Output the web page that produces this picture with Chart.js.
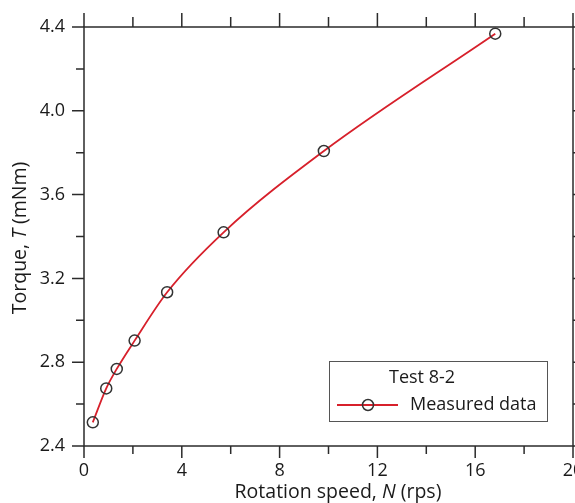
<!DOCTYPE html>
<html lang="en">
<head>
    <meta charset="UTF-8">
    <title>Torque vs rotation speed</title>
    <script src="https://cdn.jsdelivr.net/npm/chart.js"></script>
    <style>
        html, body { margin: 0; padding: 0; background: #fff; }
        #wrap { width: 575px; height: 503px; }
    </style>
</head>
<body>
    <div id="wrap">
        <canvas id="grafico"></canvas>
    </div>

    <script>
        // dados
        const rotacao = [0.36, 0.91, 1.34, 2.07, 3.40, 5.71, 9.81, 16.82];
        const torque = [2.513, 2.675, 2.768, 2.903, 3.134, 3.42, 3.808, 4.368];
        const xTicks = [0, 4, 8, 12, 16, 20];
        const yTicks = [2.4, 2.8, 3.2, 3.6, 4.0, 4.4];
        const legendaTitulo = 'Test 8-2';
        const legendaSerie = 'Measured data';

        const fonte = '"Open Sans", "Noto Sans", sans-serif';
        const corEixo = '#2b2b2b';
        const corLinha = '#d7202b';

        // moldura, ticks maiores/menores, títulos dos eixos e legenda
        const extras = {
            id: 'extras',
            afterDraw(chart) {
                const ctx = chart.ctx;
                const a = chart.chartArea;
                const sx = chart.scales.x;
                const sy = chart.scales.y;
                ctx.save();
                ctx.strokeStyle = corEixo;
                ctx.lineWidth = 1.5;
                ctx.strokeRect(a.left, a.top, a.right - a.left, a.bottom - a.top);

                ctx.beginPath();
                for (let v = 0; v <= 20; v += 2) {
                    const px = sx.getPixelForValue(v);
                    const maior = v % 4 === 0;
                    ctx.moveTo(px, a.bottom); ctx.lineTo(px, a.bottom + (maior ? 12 : 8));
                    ctx.moveTo(px, a.top); ctx.lineTo(px, a.top - (maior ? 14 : 10));
                }
                for (let i = 0; i <= 10; i++) {
                    const v = 2.4 + i * 0.2;
                    const py = sy.getPixelForValue(v);
                    const maior = i % 2 === 0;
                    ctx.moveTo(a.left, py); ctx.lineTo(a.left - (maior ? 12 : 8), py);
                    ctx.moveTo(a.right, py); ctx.lineTo(a.right + (maior ? 12 : 8), py);
                }
                ctx.stroke();

                // títulos dos eixos (com letra em itálico)
                ctx.fillStyle = '#1a1a1a';
                ctx.textBaseline = 'middle';
                function textoMisto(partes, cx, cy, tam) {
                    let total = 0;
                    partes.forEach(p => {
                        ctx.font = (p.it ? 'italic ' : '') + tam + 'px ' + fonte;
                        total += ctx.measureText(p.t).width;
                    });
                    let x = cx - total / 2;
                    ctx.textAlign = 'left';
                    partes.forEach(p => {
                        ctx.font = (p.it ? 'italic ' : '') + tam + 'px ' + fonte;
                        ctx.fillText(p.t, x, cy);
                        x += ctx.measureText(p.t).width;
                    });
                }
                textoMisto([{ t: 'Rotation speed, ' }, { t: 'N', it: true }, { t: ' (rps)' }], 338, 492, 19.5);
                ctx.save();
                ctx.translate(20, 238);
                ctx.rotate(-Math.PI / 2);
                textoMisto([{ t: 'Torque, ' }, { t: 'T', it: true }, { t: ' (mNm)' }], 0, 0, 19.5);
                ctx.restore();

                // legenda
                ctx.fillStyle = '#fff';
                ctx.fillRect(329, 361, 218, 60);
                ctx.strokeStyle = '#555';
                ctx.lineWidth = 1;
                ctx.strokeRect(329.5, 361.5, 218, 60);
                ctx.fillStyle = '#1a1a1a';
                ctx.font = '18px ' + fonte;
                ctx.textAlign = 'center';
                ctx.fillText(legendaTitulo, 422, 378);
                ctx.strokeStyle = corLinha;
                ctx.lineWidth = 1.8;
                ctx.beginPath();
                ctx.moveTo(337, 405); ctx.lineTo(398, 405);
                ctx.stroke();
                ctx.strokeStyle = '#333';
                ctx.lineWidth = 1.5;
                ctx.beginPath();
                ctx.arc(368, 405, 5.5, 0, Math.PI * 2);
                ctx.stroke();
                ctx.textAlign = 'left';
                ctx.fillText(legendaSerie, 410, 405);
                ctx.restore();
            }
        };

        const dados = {
            datasets: [{
                label: legendaSerie,
                data: rotacao.map((x, i) => ({ x: x, y: torque[i] })),
                borderColor: corLinha,
                borderWidth: 1.8,
                cubicInterpolationMode: 'monotone',
                pointRadius: 5.5,
                pointBorderWidth: 1.5,
                pointBorderColor: '#333',
                pointBackgroundColor: 'rgba(0,0,0,0)',
                fill: false
            }]
        };

        const config = {
            type: 'line',
            data: dados,
            options: {
                responsive: false,
                animation: false,
                layout: { autoPadding: false, padding: { top: 27, right: 2, left: 0, bottom: 0 } },
                plugins: {
                    legend: { display: false },
                    tooltip: { enabled: false }
                },
                scales: {
                    x: {
                        type: 'linear',
                        min: 0,
                        max: 20,
                        afterFit: s => { s.height = 57; s.paddingLeft = 0; s.paddingRight = 0; },
                        afterBuildTicks: s => { s.ticks = xTicks.map(v => ({ value: v })); },
                        grid: { display: false, drawTicks: false },
                        border: { display: false },
                        ticks: {
                            padding: 14,
                            color: '#1a1a1a',
                            font: { family: fonte, size: 18 },
                            maxRotation: 0,
                            callback: v => String(v)
                        }
                    },
                    y: {
                        type: 'linear',
                        min: 2.4,
                        max: 4.4,
                        afterFit: s => { s.width = 84; s.paddingTop = 0; s.paddingBottom = 0; },
                        afterBuildTicks: s => { s.ticks = yTicks.map(v => ({ value: v })); },
                        grid: { display: false, drawTicks: false },
                        border: { display: false },
                        ticks: {
                            padding: 19,
                            color: '#1a1a1a',
                            font: { family: fonte, size: 18 },
                            callback: v => Number(v).toFixed(1)
                        }
                    }
                }
            },
            plugins: [extras]
        };

        const canvas = document.getElementById('grafico');
        canvas.width = 575;
        canvas.height = 503;
        new Chart(canvas.getContext('2d'), config);
    </script>
</body>
</html>
